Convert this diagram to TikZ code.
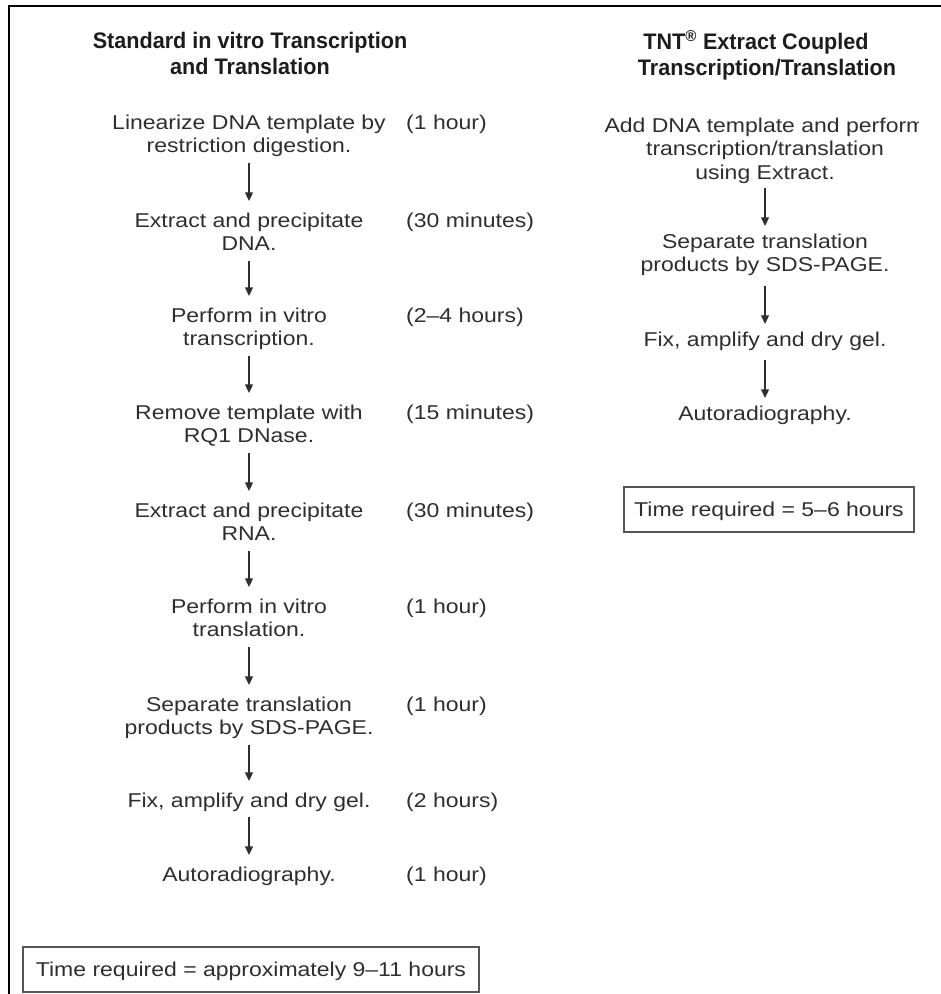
\documentclass[tikz,border=0pt]{standalone}
\usepackage{fontspec}
\setmainfont{Liberation Sans}
\newfontfamily\bodyfont[FakeStretch=1.15]{Liberation Sans}
\newfontfamily\headfont[FakeStretch=0.96]{Liberation Sans Bold}
\usetikzlibrary{arrows.meta}
\newcommand{\stk}[1]{\begin{tabular}[t]{@{}c@{}}#1\end{tabular}}
\definecolor{txt}{HTML}{2E2E2E}
\definecolor{ttl}{HTML}{1C1C1C}
\definecolor{boxline}{HTML}{555555}
\tikzset{
  stepnode/.style={anchor=base, inner sep=0pt, text=txt, font=\bodyfont\fontsize{20}{23.5}\selectfont},
  timenode/.style={anchor=base west, inner sep=0pt, text=txt, font=\bodyfont\fontsize{20}{23.5}\selectfont},
  titlenode/.style={anchor=base, inner sep=0pt, text=ttl, font=\headfont\fontsize{22.5}{26}\selectfont},
  arrL/.style={draw=txt, line width=1.3pt, -{Stealth[length=8.5pt,width=8pt,inset=0pt]}, shorten <=3pt, shorten >=9.5pt},
  arrR/.style={draw=txt, line width=1.3pt, -{Stealth[length=8.5pt,width=8pt,inset=0pt]}, shorten <=7pt, shorten >=5.5pt},
  timebox/.style={draw=boxline, line width=1.5pt, inner xsep=0pt, inner ysep=0pt, text=txt,
    font=\bodyfont\fontsize{20}{23.5}\selectfont, text height=16pt, text depth=2pt}
}
\begin{document}
\begin{tikzpicture}[x=1pt,y=-1pt]
\useasboundingbox (0,0) rectangle (941,994);
% frame
\draw[line width=2pt, black] (941,6) -- (8.5,6) -- (8.5,994);

% titles
\node[titlenode] (tl) at (250,48) {\stk{Standard in vitro Transcription\\and Translation}};
\node[titlenode] (tr) at (767,49) {\stk{TNT\textsuperscript{®} Extract Coupled\hspace*{22pt}\\Transcription/Translation}};

% left column steps
\node[stepnode] (s1) at (249,129) {\stk{Linearize DNA template by\\restriction digestion.}};
\node[stepnode] (s2) at (249,227) {\stk{Extract and precipitate\\DNA.}};
\node[stepnode] (s3) at (249,322) {\stk{Perform in vitro\\transcription.}};
\node[stepnode] (s4) at (249,419) {\stk{Remove template with\\RQ1 DNase.}};
\node[stepnode] (s5) at (249,517) {\stk{Extract and precipitate\\RNA.}};
\node[stepnode] (s6) at (249,613) {\stk{Perform in vitro\\translation.}};
\node[stepnode] (s7) at (249,711) {\stk{Separate translation\\products by SDS-PAGE.}};
\node[stepnode] (s8) at (249,807) {\stk{Fix, amplify and dry gel.}};
\node[stepnode] (s9) at (249,881) {\stk{Autoradiography.}};

% times
\node[timenode] (m1) at (406,129) {(1 hour)};
\node[timenode] (m2) at (406,227) {(30 minutes)};
\node[timenode] (m3) at (406,322) {(2–4 hours)};
\node[timenode] (m4) at (406,419) {(15 minutes)};
\node[timenode] (m5) at (406,517) {(30 minutes)};
\node[timenode] (m6) at (406,613) {(1 hour)};
\node[timenode] (m7) at (406,711) {(1 hour)};
\node[timenode] (m8) at (406,807) {(2 hours)};
\node[timenode] (m9) at (406,881) {(1 hour)};

\foreach \a/\b in {s1/s2,s2/s3,s3/s4,s4/s5,s5/s6,s6/s7,s7/s8,s8/s9}
  \draw[arrL] (\a.south) -- (\b.north);

\node[timebox, minimum width=456pt, minimum height=45pt] (bl) at (251,969.5) {Time required = approximately 9–11 hours};

% right column
\begin{scope}
\clip (0,0) rectangle (918,994);
\node[stepnode] (r1) at (765,132) {\stk{Add DNA template and perform\\transcription/translation\\using Extract.}};
\end{scope}
\node[stepnode] (r2) at (765,248) {\stk{Separate translation\\products by SDS-PAGE.}};
\node[stepnode] (r3) at (765,346) {\stk{Fix, amplify and dry gel.}};
\node[stepnode] (r4) at (765,420) {\stk{Autoradiography.}};

\draw[arrR, shorten <=2pt] (r1.south) -- (r2.north);
\foreach \a/\b in {r2/r3,r3/r4}
  \draw[arrR] (\a.south) -- (\b.north);

\node[timebox, minimum width=290pt, minimum height=45pt] (br) at (769,509.5) {Time required = 5–6 hours};
\end{tikzpicture}
\end{document}
